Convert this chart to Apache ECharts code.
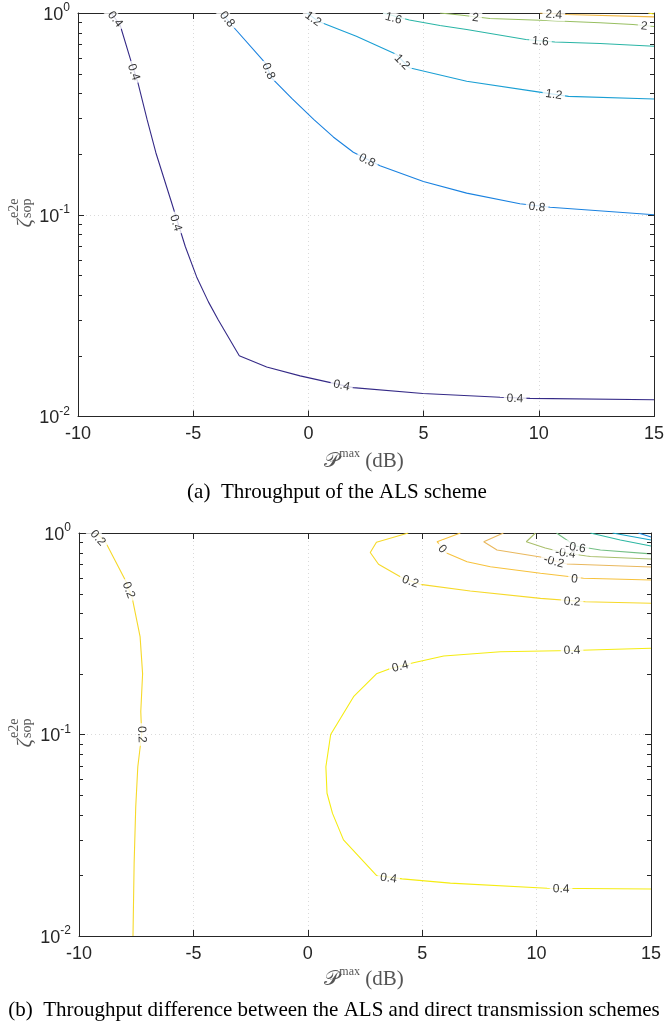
<!DOCTYPE html>
<html>
<head>
<meta charset="utf-8">
<script src="https://cdn.jsdelivr.net/npm/echarts@6/dist/echarts.min.js"></script>
<style>
  html, body { margin: 0; padding: 0; background: #fff; }
  #chart { width: 665px; height: 1034px; }
</style>
</head>
<body>
<div id="chart"></div>
<script>
const SANS = '"Liberation Sans", Arial, Helvetica, sans-serif'
const SERIF = '"Liberation Serif", "Times New Roman", serif'
const INK = '#262626'

// minor ticks of the log axis (2..9 in each decade)
const minorTicks = [0.02, 0.03, 0.04, 0.05, 0.06, 0.07, 0.08, 0.09, 0.2, 0.3, 0.4, 0.5, 0.6, 0.7, 0.8, 0.9]

// (a) throughput of the ALS scheme, contour lines as [P (dB), zeta]
const a04 = [[-8.57, 1], [-8.18, 0.877], [-7.68, 0.568], [-7.40, 0.452], [-7.0, 0.296], [-6.62, 0.203], [-5.98, 0.119],
  [-5.34, 0.0694], [-4.85, 0.0492], [-4.34, 0.037], [-3.91, 0.0301], [-3, 0.02], [-1.81, 0.0176], [-0.36, 0.0159],
  [1.94, 0.0139], [4.97, 0.013], [8.32, 0.01245], [9.62, 0.0123], [15, 0.0121]]
const a08 = [[-3.75, 1], [-3.35, 0.877], [-1.875, 0.566], [-1.60, 0.477], [-0.71, 0.376], [0.24, 0.296], [1.08, 0.243],
  [1.95, 0.204], [3.11, 0.175], [4.99, 0.146], [6.87, 0.128], [9.18, 0.1134], [10.49, 0.109], [15, 0.1]]
const a12 = [[-0.06, 1], [0.42, 0.911], [2.08, 0.767], [3.83, 0.622], [4.38, 0.535], [6.87, 0.459], [9.81, 0.409],
  [11.29, 0.386], [15, 0.375]]
const a16 = [[3.24, 1], [4.38, 0.923], [5.71, 0.867], [6.87, 0.828], [9.44, 0.739], [10.70, 0.718], [12.66, 0.706], [15, 0.684]]
const a20 = [[5.71, 1], [6.58, 0.977], [7.88, 0.939], [10.05, 0.921], [12.66, 0.894], [14.09, 0.877], [15, 0.857]]
const a24 = [[10.05, 1], [11.21, 0.983], [15, 0.957]]
const a28 = [[14.75, 1], [15, 0.988]]
const levelsA = ['0.4', '0.8', '1.2', '1.6', '2', '2.4', '2.8']
const contoursA = [a04, a08, a12, a16, a20, a24, a28]
const labelsA = [
  ['0.4', -8.39, 0.93], ['0.4', -7.59, 0.509], ['0.4', -5.76, 0.091], ['0.4', 1.44, 0.01422], ['0.4', 8.97, 0.01226],
  ['0.8', -3.53, 0.93], ['0.8', -1.74, 0.515], ['0.8', 2.54, 0.1854], ['0.8', 9.92, 0.109],
  ['1.2', 0.2, 0.934], ['1.2', 4.06, 0.571], ['1.2', 10.65, 0.394],
  ['1.6', 3.69, 0.939], ['1.6', 10.07, 0.722],
  ['2', 7.25, 0.947], ['2', 14.57, 0.86],
  ['2.4', 10.65, 0.98]
]

// (b) throughput difference ALS - direct transmission
const b04 = [[15, 0.268], [11.55, 0.261], [8.42, 0.2575], [5.94, 0.2453], [4.62, 0.227], [3.53, 0.211], [3, 0.2], [2, 0.154],
  [1, 0.1], [0.79, 0.0692], [0.84, 0.0511], [1.08, 0.0406], [1.56, 0.03], [3, 0.02], [4.12, 0.0192], [6.23, 0.0183],
  [10.46, 0.01725], [15, 0.0171]]
const b02L = [[-9.21, 1], [-8.82, 0.892], [-7.94, 0.573], [-7.67, 0.474], [-7.33, 0.306], [-7.22, 0.2], [-7.3, 0.13],
  [-7.26, 0.1], [-7.43, 0.0692], [-7.52, 0.0438], [-7.59, 0.023], [-7.64, 0.01]]
const b02R = [[4.39, 1], [3, 0.9], [2.73, 0.8], [3.09, 0.7], [4.12, 0.6], [4.92, 0.556], [7.1, 0.515], [10.17, 0.474],
  [12.13, 0.456], [15, 0.448]]
const b00 = [[6.67, 1], [5.65, 0.905], [6.09, 0.793], [6.96, 0.72], [7.98, 0.68], [10.17, 0.631], [12.05, 0.596], [15, 0.584]]
const bm02 = [[8.55, 1], [7.69, 0.905], [8.27, 0.823], [10.17, 0.76], [11.33, 0.702], [15, 0.678]]
const bm04 = [[9.95, 1], [9.55, 0.905], [10.38, 0.843], [11.26, 0.796], [12.35, 0.765], [15, 0.743]]
const bm06 = [[10.87, 1], [11.7, 0.862], [12.79, 0.823], [15, 0.788]]
const bm08 = [[12.35, 1], [13.66, 0.923], [15, 0.862]]
const bm10 = [[13.32, 1], [15, 0.923]]
const bm12 = [[14.45, 1], [15, 0.955]]
const levelsB = ['0.4', '0.2', '0.2', '0', '-0.2', '-0.4', '-0.6', '-0.8', '-1', '-1.2']
const contoursB = [b04, b02L, b02R, b00, bm02, bm04, bm06, bm08, bm10, bm12]
const labelsB = [
  ['0.2', -9.18, 0.945], ['0.2', -7.84, 0.521], ['0.2', -7.26, 0.1],
  ['0.2', 4.48, 0.573], ['0.2', 11.55, 0.456],
  ['0', 5.87, 0.833], ['0', 11.65, 0.591],
  ['-0.2', 10.75, 0.72], ['-0.4', 11.26, 0.793], ['-0.6', 11.7, 0.847],
  ['0.4', 4.04, 0.217], ['0.4', 11.55, 0.261], ['0.4', 3.53, 0.01934], ['0.4', 11.07, 0.0171]
]

// parula-like line colours
const colorsA = ['#352a87', '#1a82e0', '#1a9fd4', '#2ab5a6', '#98bf62', '#f0b640', '#f5e918']
const colorsB = ['#f5ec12', '#f6d92a', '#f6d92a', '#f7c23c', '#e9b85e', '#aabf6c', '#74bf84', '#2db7a3', '#14a6c9', '#1582d9']

const chart = echarts.init(document.getElementById('chart'))

const grids = [
  { left: 78, top: 13, width: 576, height: 403.5 },
  { left: 79, top: 533, width: 572, height: 403 }
]

function xAxes(gi) {
  const base = {
    gridIndex: gi, type: 'value', min: -10, max: 15, interval: 5,
    axisLine: { show: true, onZero: false, lineStyle: { color: INK, width: 1 } },
    axisTick: { show: true, inside: true, length: 6, lineStyle: { color: INK } }
  }
  return [
    Object.assign({}, base, {
      position: 'bottom',
      axisLabel: { color: INK, fontSize: 18, fontFamily: SANS, margin: 9 },
      splitLine: { show: true, lineStyle: { color: '#dadada', type: [1, 3], width: 1 } }
    }),
    Object.assign({}, base, { position: 'top', axisLabel: { show: false }, splitLine: { show: false } })
  ]
}

function yAxes(gi) {
  const base = {
    gridIndex: gi, type: 'log', logBase: 10, min: 0.01, max: 1,
    axisLine: { show: true, onZero: false, lineStyle: { color: INK, width: 1 } },
    axisTick: { show: true, inside: true, length: 6, lineStyle: { color: INK } },
    minorTick: { show: false }
  }
  return [
    Object.assign({}, base, {
      position: 'left',
      axisLabel: {
        margin: 8,
        formatter: v => '{b|10}{s|' + Math.round(Math.log10(v)) + '}',
        rich: {
          b: { fontSize: 18, fontFamily: SANS, color: INK, lineHeight: 22, verticalAlign: 'bottom' },
          s: { fontSize: 12, fontFamily: SANS, color: INK, lineHeight: 12, verticalAlign: 'top' }
        }
      },
      splitLine: { show: true, lineStyle: { color: '#dadada', type: [1, 3], width: 1 } }
    }),
    Object.assign({}, base, { position: 'right', axisLabel: { show: false }, splitLine: { show: false } })
  ]
}

function minorTickSeries(ai) {
  return {
    type: 'custom', xAxisIndex: ai, yAxisIndex: ai, silent: true, z: 10, clip: false,
    data: minorTicks.map(v => [-10, v]),
    renderItem: (params, api) => {
      const v = api.value(1)
      const l = api.coord([-10, v])
      const r = api.coord([15, v])
      const y = Math.round(l[1]) + 0.5
      return {
        type: 'group', children: [
          { type: 'line', shape: { x1: l[0], y1: y, x2: l[0] + 4, y2: y }, style: { stroke: INK, lineWidth: 1 } },
          { type: 'line', shape: { x1: r[0], y1: y, x2: r[0] - 4, y2: y }, style: { stroke: INK, lineWidth: 1 } }
        ]
      }
    }
  }
}

function lineSeries(pts, color, ai) {
  return {
    type: 'line', data: pts, xAxisIndex: ai, yAxisIndex: ai, symbol: 'none', showSymbol: false,
    lineStyle: { color: color, width: 1.1 }, silent: true, z: 3
  }
}

function labelSeries(list, ai, rotations) {
  return {
    type: 'scatter', xAxisIndex: ai, yAxisIndex: ai, symbolSize: 1, silent: true, z: 6,
    itemStyle: { color: 'rgba(0,0,0,0)' },
    label: {
      show: true, position: 'inside', color: '#000', fontSize: 12, fontFamily: SANS,
      backgroundColor: '#fff', padding: [0, 3]
    },
    data: list.map((l, i) => ({ value: [l[1], l[2]], label: { formatter: l[0], rotate: rotations ? rotations[i] : 0 } }))
  }
}

function zetaName(cx, cy) {
  return {
    type: 'group', x: cx, y: cy, rotation: Math.PI / 2, children: [
      { type: 'text', x: -3, y: 1, style: { text: 'ζ', font: 'italic 21px ' + SERIF, fill: '#555', align: 'right', verticalAlign: 'middle' } },
      { type: 'text', x: -2, y: -10, style: { text: 'e2e', font: '14px ' + SERIF, fill: '#555', align: 'left', verticalAlign: 'middle' } },
      { type: 'text', x: -2, y: 3, style: { text: 'sop', font: '14px ' + SERIF, fill: '#555', align: 'left', verticalAlign: 'middle' } }
    ]
  }
}

function pName(cx, cy) {
  return {
    type: 'text', x: cx, y: cy,
    style: {
      text: '{p|𝒫}{m|max}{d| (dB)}', align: 'center', verticalAlign: 'middle',
      rich: {
        p: { fontSize: 21, fontFamily: '"DejaVu Serif", ' + SERIF, fill: '#555', lineHeight: 24, verticalAlign: 'bottom' },
        m: { fontSize: 12, fontFamily: SERIF, fill: '#555', lineHeight: 12, verticalAlign: 'top' },
        d: { fontSize: 21, fontFamily: SERIF, fill: '#555', lineHeight: 24, verticalAlign: 'bottom' }
      }
    }
  }
}

function caption(text, cx, cy) {
  return { type: 'text', x: cx, y: cy, style: { text: text, font: '21px ' + SERIF, fill: '#000', align: 'center', verticalAlign: 'middle' } }
}

function buildOption(rotA, rotB) {
  const series = []
  contoursA.forEach((c, i) => series.push(lineSeries(c, colorsA[i], 0)))
  contoursB.forEach((c, i) => series.push(lineSeries(c, colorsB[i], 2)))
  series.push(labelSeries(labelsA, 0, rotA))
  series.push(labelSeries(labelsB, 2, rotB))
  series.push(minorTickSeries(0))
  series.push(minorTickSeries(2))
  return {
    animation: false,
    backgroundColor: '#fff',
    grid: grids.map(g => Object.assign({ containLabel: false, outerBoundsMode: 'none' }, g)),
    xAxis: xAxes(0).concat(xAxes(1)),
    yAxis: yAxes(0).concat(yAxes(1)),
    graphic: [
      zetaName(24, 216), zetaName(24, 736),
      pName(364, 460), pName(364, 978),
      caption('(a)  Throughput of the ALS scheme', 337, 492),
      caption('(b)  Throughput difference between the ALS and direct transmission schemes', 334, 1010)
    ],
    series: series
  }
}

chart.setOption(buildOption(null, null))

// rotate each clabel along its contour, measured in pixels through the axes
function segDist(p, a, b) {
  const dx = b[0] - a[0], dy = b[1] - a[1]
  const len = dx * dx + dy * dy || 1
  let t = ((p[0] - a[0]) * dx + (p[1] - a[1]) * dy) / len
  t = Math.max(0, Math.min(1, t))
  const qx = a[0] + t * dx - p[0], qy = a[1] + t * dy - p[1]
  return Math.sqrt(qx * qx + qy * qy)
}

function rotationsFor(labels, levels, contours, seriesOffset) {
  return labels.map(l => {
    const p = chart.convertToPixel({ seriesIndex: seriesOffset }, [l[1], l[2]])
    let best = Infinity, ang = 0
    contours.forEach((c, ci) => {
      if (levels[ci] !== l[0]) return
      for (let i = 0; i < c.length - 1; i++) {
        const a = chart.convertToPixel({ seriesIndex: seriesOffset + ci }, c[i])
        const b = chart.convertToPixel({ seriesIndex: seriesOffset + ci }, c[i + 1])
        const d = segDist(p, a, b)
        if (d < best) {
          best = d
          ang = Math.atan2(-(b[1] - a[1]), b[0] - a[0]) * 180 / Math.PI
        }
      }
    })
    if (ang > 90) ang -= 180
    if (ang < -90) ang += 180
    return ang
  })
}

const rotA = rotationsFor(labelsA, levelsA, contoursA, 0)
const rotB = rotationsFor(labelsB, levelsB, contoursB, contoursA.length)
chart.setOption(buildOption(rotA, rotB))
</script>
</body>
</html>
